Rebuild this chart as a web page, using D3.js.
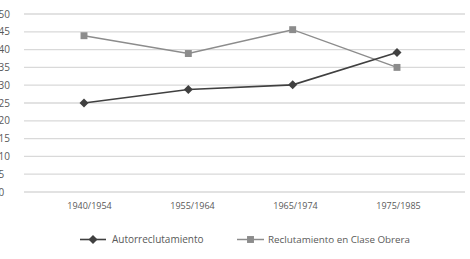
<!DOCTYPE html>
<html><head><meta charset="utf-8">
<script src="https://cdn.jsdelivr.net/npm/d3@7"></script>
<style>body{margin:0;background:#fff}svg{display:block}text{font-family:"Open Sans",sans-serif;fill:#595959}</style>
</head><body><svg id="c" width="470" height="259"></svg>
<script>
const categories = ["1940/1954","1955/1964","1965/1974","1975/1985"];
const autorreclutamiento = [25.0, 28.8, 30.1, 39.2];
const claseObrera = [43.9, 38.9, 45.6, 35.0];
const yTicks = [0,5,10,15,20,25,30,35,40,45,50];
const seriesNames = ["Autorreclutamiento","Reclutamiento en Clase Obrera"];

const svg = d3.select("#c");
const y = d3.scaleLinear().domain([0,50]).range([192,14]);
const x = d3.scalePoint().domain(categories).range([84,397]);
const xLab = d3.scalePoint().domain(categories).range([89,398]);

// gridlines
svg.append("g").selectAll("line").data(yTicks).join("line")
  .attr("x1",24).attr("x2",465)
  .attr("y1",d=>y(d)).attr("y2",d=>y(d))
  .attr("stroke","#d9d9d9").attr("stroke-width",1.3);

// y labels
svg.append("g").selectAll("text").data(yTicks).join("text")
  .attr("x",-1.5).attr("y",d=>y(d)).attr("dy","0.35em")
  .attr("font-size",10).text(d=>d);

// x axis labels
const xa = svg.append("g").attr("transform","translate(0,200)")
  .call(d3.axisBottom(xLab).tickSize(0).tickPadding(3));
xa.select(".domain").remove();
xa.selectAll("text").attr("font-size",9).attr("fill","#595959").attr("font-family","Open Sans");

const line = d3.line().x((d,i)=>x(categories[i])).y(d=>y(d));
const col1 = "#404040", col2 = "#8c8c8c";

svg.append("path").datum(claseObrera).attr("d",line).attr("fill","none").attr("stroke",col2).attr("stroke-width",1.5);
svg.append("path").datum(autorreclutamiento).attr("d",line).attr("fill","none").attr("stroke",col1).attr("stroke-width",1.6);

const diamond = d3.symbol().type(d3.symbolDiamond2).size(52);
const square = d3.symbol().type(d3.symbolSquare).size(48);

svg.append("g").selectAll("path").data(claseObrera).join("path")
  .attr("d",square).attr("fill",col2)
  .attr("transform",(d,i)=>`translate(${x(categories[i])},${y(d)})`);
svg.append("g").selectAll("path").data(autorreclutamiento).join("path")
  .attr("d",diamond).attr("fill",col1)
  .attr("transform",(d,i)=>`translate(${x(categories[i])},${y(d)})`);

// legend
const lg = svg.append("g");
const ly = 239.5;
lg.append("line").attr("x1",80).attr("x2",106).attr("y1",ly).attr("y2",ly).attr("stroke",col1).attr("stroke-width",1.6);
lg.append("path").attr("d",diamond).attr("fill",col1).attr("transform",`translate(93,${ly})`);
lg.append("text").attr("x",112).attr("y",ly).attr("dy","0.35em").attr("font-size",10).text(seriesNames[0]);
lg.append("line").attr("x1",237).attr("x2",264).attr("y1",ly).attr("y2",ly).attr("stroke",col2).attr("stroke-width",1.5);
lg.append("path").attr("d",square).attr("fill",col2).attr("transform",`translate(250.5,${ly})`);
lg.append("text").attr("x",268).attr("y",ly).attr("dy","0.35em").attr("font-size",9.8).text(seriesNames[1]);
</script></body></html>
